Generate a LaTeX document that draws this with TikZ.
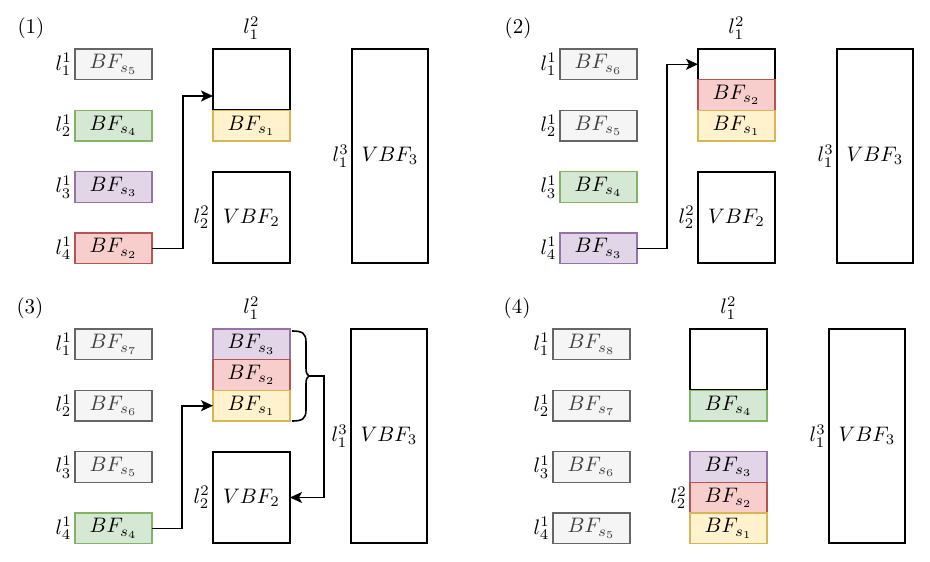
\documentclass[tikz,border=0pt]{standalone}
\usepackage{graphicx}
\usetikzlibrary{arrows.meta}
\definecolor{grayF}{HTML}{F5F5F5}\definecolor{grayD}{HTML}{666666}
\definecolor{greenF}{HTML}{D5E8D4}\definecolor{greenD}{HTML}{82B366}
\definecolor{purpleF}{HTML}{E1D5E7}\definecolor{purpleD}{HTML}{9673A6}
\definecolor{redF}{HTML}{F8CECC}\definecolor{redD}{HTML}{B85450}
\definecolor{yellowF}{HTML}{FFF2CC}\definecolor{yellowD}{HTML}{D6B656}
\newcommand{\sz}[1]{\scalebox{2.1}{#1}}
\tikzset{
  bf/.style={rectangle, minimum width=77pt, minimum height=30.67pt, inner sep=0pt, outer sep=0pt, line width=1.3pt},
  grayb/.style={bf, fill=grayF, draw=grayD, text=black!75},
  greenb/.style={bf, fill=greenF, draw=greenD},
  purpleb/.style={bf, fill=purpleF, draw=purpleD},
  redb/.style={bf, fill=redF, draw=redD},
  yellowb/.style={bf, fill=yellowF, draw=yellowD},
  bigb/.style={rectangle, draw=black, line width=1.8pt, minimum width=77pt, inner sep=0pt, outer sep=0pt},
  lab/.style={anchor=east, inner sep=0pt, xshift=-3pt},
  toplab/.style={inner sep=0pt},
  panlab/.style={inner sep=0pt},
  arr/.style={line width=1.6pt, -{Stealth[length=12pt,width=11pt,inset=3pt]}},
}
\begin{document}
\begin{tikzpicture}[x=1pt,y=-1pt]
\useasboundingbox (0,0) rectangle (930,562);
% panel labels
\node[panlab] (n1) at (31,28) {\sz{(1)}};
\node[panlab] (n2) at (518,28) {\sz{(2)}};
\node[panlab] (n3) at (30,308) {\sz{(3)}};
\node[panlab] (n4) at (517,308) {\sz{(4)}};
% ---------- panel 1
\begin{scope}[shift={(0,0)}]
\node[grayb] (p1a1) at (113.5,64.3) {\sz{$BF_{s_5}$}};
\node[greenb] (p1a2) at (113.5,125.7) {\sz{$BF_{s_4}$}};
\node[purpleb] (p1a3) at (113.5,187) {\sz{$BF_{s_3}$}};
\node[redb] (p1a4) at (113.5,248.3) {\sz{$BF_{s_2}$}};
\node[lab] (p1l1) at (p1a1.west) {\sz{$l^1_1$}};
\node[lab] (p1l2) at (p1a2.west) {\sz{$l^1_2$}};
\node[lab] (p1l3) at (p1a3.west) {\sz{$l^1_3$}};
\node[lab] (p1l4) at (p1a4.west) {\sz{$l^1_4$}};
\node[bigb, minimum height=61.3pt] (p1e) at (251.5,79.7) {};
\node[yellowb] (p1c1) at (251.5,125.7) {\sz{$BF_{s_1}$}};
\node[toplab] (p1t) at (251.5,28) {\sz{$l^2_1$}};
\node[bigb, minimum height=91pt] (p1v2) at (251.5,217.5) {\sz{$VBF_2$}};
\node[lab] (p1l22) at (p1v2.west) {\sz{$l^2_2$}};
\node[bigb, minimum width=76pt, minimum height=214pt] (p1v3) at (390,156) {\sz{$VBF_3$}};
\node[lab] (p1l13) at (p1v3.west) {\sz{$l^3_1$}};
\coordinate (p1y) at (0,96);
\draw[arr] (p1a4.east) -- ++(31,0) |- (p1e.west |- p1y);
\end{scope}
% ---------- panel 2
\begin{scope}[shift={(485,0)}]
\node[grayb] (p2a1) at (113.5,64.3) {\sz{$BF_{s_6}$}};
\node[grayb] (p2a2) at (113.5,125.7) {\sz{$BF_{s_5}$}};
\node[greenb] (p2a3) at (113.5,187) {\sz{$BF_{s_4}$}};
\node[purpleb] (p2a4) at (113.5,248.3) {\sz{$BF_{s_3}$}};
\node[lab] (p2l1) at (p2a1.west) {\sz{$l^1_1$}};
\node[lab] (p2l2) at (p2a2.west) {\sz{$l^1_2$}};
\node[lab] (p2l3) at (p2a3.west) {\sz{$l^1_3$}};
\node[lab] (p2l4) at (p2a4.west) {\sz{$l^1_4$}};
\node[bigb, minimum height=30.67pt] (p2e) at (251.5,64.3) {};
\node[redb] (p2c2) at (251.5,95) {\sz{$BF_{s_2}$}};
\node[yellowb] (p2c1) at (251.5,125.7) {\sz{$BF_{s_1}$}};
\node[toplab] (p2t) at (251.5,28) {\sz{$l^2_1$}};
\node[bigb, minimum height=91pt] (p2v2) at (251.5,217.5) {\sz{$VBF_2$}};
\node[lab] (p2l22) at (p2v2.west) {\sz{$l^2_2$}};
\node[bigb, minimum width=76pt, minimum height=214pt] (p2v3) at (390,156) {\sz{$VBF_3$}};
\node[lab] (p2l13) at (p2v3.west) {\sz{$l^3_1$}};
\draw[arr] (p2a4.east) -- ++(30,0) |- (p2e.west);
\end{scope}
% ---------- panel 3
\begin{scope}[shift={(0,280)}]
\node[grayb] (p3a1) at (113.5,64.3) {\sz{$BF_{s_7}$}};
\node[grayb] (p3a2) at (113.5,125.7) {\sz{$BF_{s_6}$}};
\node[grayb] (p3a3) at (113.5,187) {\sz{$BF_{s_5}$}};
\node[greenb] (p3a4) at (113.5,248.3) {\sz{$BF_{s_4}$}};
\node[lab] (p3l1) at (p3a1.west) {\sz{$l^1_1$}};
\node[lab] (p3l2) at (p3a2.west) {\sz{$l^1_2$}};
\node[lab] (p3l3) at (p3a3.west) {\sz{$l^1_3$}};
\node[lab] (p3l4) at (p3a4.west) {\sz{$l^1_4$}};
\node[purpleb] (p3c3) at (251.5,64.3) {\sz{$BF_{s_3}$}};
\node[redb] (p3c2) at (251.5,95) {\sz{$BF_{s_2}$}};
\node[yellowb] (p3c1) at (251.5,125.7) {\sz{$BF_{s_1}$}};
\node[toplab] (p3t) at (251.5,28) {\sz{$l^2_1$}};
\node[bigb, minimum height=91pt] (p3v2) at (251.5,217.5) {\sz{$VBF_2$}};
\node[lab] (p3l22) at (p3v2.west) {\sz{$l^2_2$}};
\node[bigb, minimum width=76pt, minimum height=214pt] (p3v3) at (389,156) {\sz{$VBF_3$}};
\node[lab] (p3l13) at (p3v3.west) {\sz{$l^3_1$}};
\draw[arr] (p3a4.east) -- ++(30,0) |- (p3c1.west);
% brace
\draw[line width=1.6pt] (292,51) .. controls (302,51) and (306,53) .. (306,62) -- (306,88)
  .. controls (306,93) and (307,95) .. (309,96)
  .. controls (307,97) and (306,99) .. (306,104) -- (306,130)
  .. controls (306,139) and (302,141) .. (292,141);
\coordinate (p3bt) at (309,96);
\draw[arr] (p3bt) -- ++(15,0) |- (p3v2.east);
\end{scope}
% ---------- panel 4
\begin{scope}[shift={(478,280)}]
\node[grayb] (p4a1) at (113.5,64.3) {\sz{$BF_{s_8}$}};
\node[grayb] (p4a2) at (113.5,125.7) {\sz{$BF_{s_7}$}};
\node[grayb] (p4a3) at (113.5,187) {\sz{$BF_{s_6}$}};
\node[grayb] (p4a4) at (113.5,248.3) {\sz{$BF_{s_5}$}};
\node[lab] (p4l1) at (p4a1.west) {\sz{$l^1_1$}};
\node[lab] (p4l2) at (p4a2.west) {\sz{$l^1_2$}};
\node[lab] (p4l3) at (p4a3.west) {\sz{$l^1_3$}};
\node[lab] (p4l4) at (p4a4.west) {\sz{$l^1_4$}};
\node[bigb, minimum height=61.3pt] (p4e) at (250.5,79.7) {};
\node[greenb] (p4c4) at (250.5,125.7) {\sz{$BF_{s_4}$}};
\node[toplab] (p4t) at (250.5,28) {\sz{$l^2_1$}};
\node[purpleb] (p4b3) at (250.5,187) {\sz{$BF_{s_3}$}};
\node[redb] (p4b2) at (250.5,217.7) {\sz{$BF_{s_2}$}};
\node[yellowb] (p4b1) at (250.5,248.3) {\sz{$BF_{s_1}$}};
\node[lab] (p4l22) at (p4b2.west) {\sz{$l^2_2$}};
\node[bigb, minimum width=76pt, minimum height=214pt] (p4v3) at (389,156) {\sz{$VBF_3$}};
\node[lab] (p4l13) at (p4v3.west) {\sz{$l^3_1$}};
\end{scope}
\end{tikzpicture}
\end{document}
